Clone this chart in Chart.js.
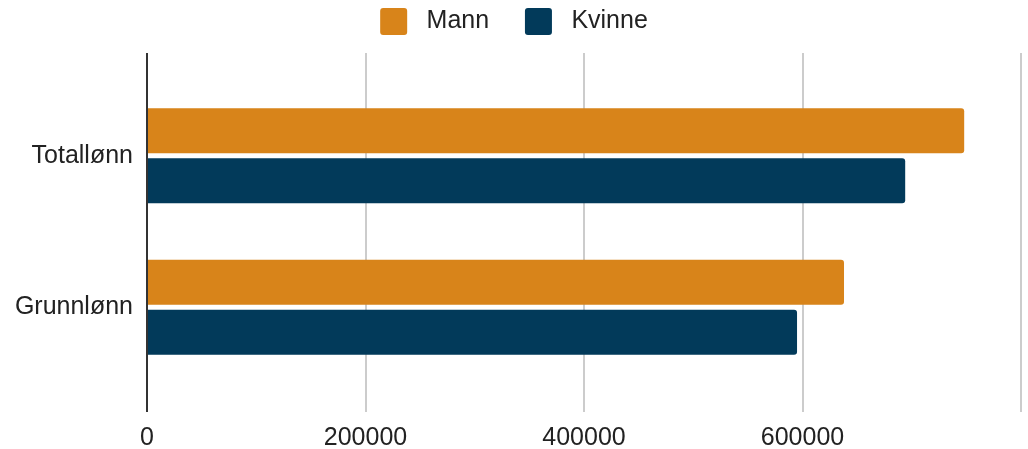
<!DOCTYPE html>
<html><head><meta charset="utf-8">
<script src="https://cdn.jsdelivr.net/npm/chart.js@4/dist/chart.umd.min.js"></script>
<style>html,body{margin:0;padding:0;background:#fff;} #wrap{width:1028px;height:449px;position:relative;}</style>
</head><body><div id="wrap"><canvas id="c"></canvas></div>
<script>
const categories = ['Totallønn', 'Grunnlønn'];
const seriesNames = ['Mann', 'Kvinne'];
const mannValues = [748000, 638000];
const kvinneValues = [694000, 595000];
const xTickValues = [0, 200000, 400000, 600000, 800000];
const xTickLabels = ['0', '200000', '400000', '600000', ''];
const seriesColors = ['#D8841A', '#023A5A'];

const FONT = "'Liberation Sans', Arial, sans-serif";
const TEXT = '#222222';
const gridColor = ctx => (ctx.tick && ctx.tick.value === 0) ? '#333333' : '#cccccc';

new Chart(document.getElementById('c'), {
  type: 'bar',
  data: {
    labels: categories,
    datasets: [
      { label: seriesNames[0], data: mannValues, backgroundColor: seriesColors[0] },
      { label: seriesNames[1], data: kvinneValues, backgroundColor: seriesColors[1] }
    ]
  },
  options: {
    indexAxis: 'y',
    responsive: true,
    maintainAspectRatio: false,
    animation: false,
    devicePixelRatio: 1,
    layout: { padding: { left: 0, right: 0, top: 0, bottom: 0 } },
    datasets: { bar: { barPercentage: 0.9, categoryPercentage: 0.66, borderRadius: 3, borderSkipped: 'start' } },
    plugins: {
      tooltip: { enabled: false },
      legend: {
        position: 'top',
        align: 'center',
        labels: {
          boxWidth: 27, boxHeight: 27, padding: 8,
          useBorderRadius: true, borderRadius: 3,
          color: TEXT,
          font: { family: FONT, size: 25 },
          generateLabels: chart => {
            const items = Chart.defaults.plugins.legend.labels.generateLabels(chart);
            return items.map((l, i) => Object.assign(l, { text: ' ' + l.text + (i < items.length - 1 ? '    ' : '') }));
          }
        }
      }
    },
    scales: {
      x: {
        type: 'linear', position: 'bottom', min: 0, max: 800000,
        afterBuildTicks: s => { s.ticks = xTickValues.map(v => ({ value: v })); },
        grid: { color: gridColor, lineWidth: 2, tickLength: 29, drawTicks: true },
        border: { display: false },
        ticks: { autoSkip: false, maxRotation: 0, padding: 11, color: TEXT, font: { family: FONT, size: 25 },
          callback: (v, i) => xTickLabels[i] },
        afterFit: s => { s.height = 66; s.paddingRight = 7; }
      },
      x2: {
        type: 'linear', axis: 'x', position: 'top', min: 0, max: 800000,
        afterBuildTicks: s => { s.ticks = xTickValues.map(v => ({ value: v })); },
        grid: { color: gridColor, lineWidth: 2, tickLength: 27, drawTicks: true, drawOnChartArea: false },
        border: { display: false },
        ticks: { display: false },
        afterFit: s => {
          const lg = s.chart.legend;
          const h = (lg && lg.height) ? lg.height : 43;
          s.height = Math.max(0, 80 - h);
          s.paddingRight = 7;
        }
      },
      y: {
        type: 'category', z: 1,
        grid: { display: false, drawTicks: false },
        border: { display: true, color: '#333333', width: 2 },
        ticks: { padding: 14, color: TEXT, font: { family: FONT, size: 25 } },
        afterFit: s => { s.width = 147; }
      }
    }
  }
});
</script>
</body></html>
